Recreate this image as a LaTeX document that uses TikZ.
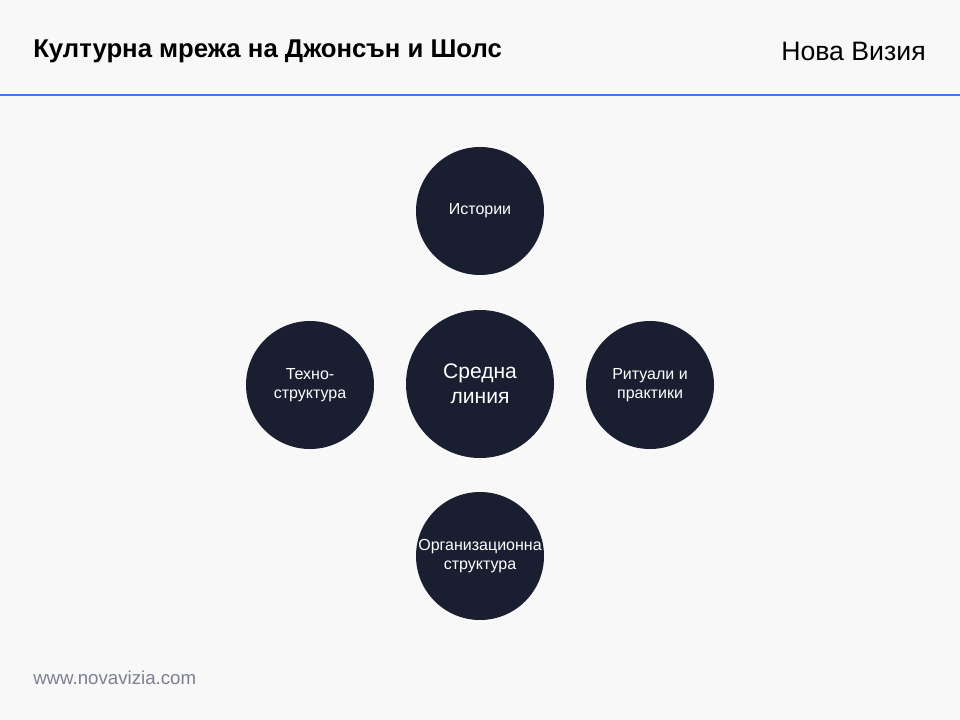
\documentclass[tikz,border=0pt]{standalone}
\usepackage{fontspec}
\setmainfont{Liberation Sans}
\usetikzlibrary{positioning}
\definecolor{pagebg}{HTML}{F8F8F8}
\definecolor{navy}{HTML}{1A1E31}
\definecolor{rulebl}{HTML}{2F7FEF}
\definecolor{footgr}{HTML}{7C8091}
\tikzset{
  bubble/.style={circle,fill=navy,text=white,minimum size=96pt,inner sep=0pt,align=center,font=\fontsize{12}{14.5}\selectfont},
  bigbubble/.style={bubble,minimum size=111pt,font=\fontsize{15.8}{19}\selectfont}
}

\begin{document}
\begin{tikzpicture}[x=0.75pt,y=-0.75pt]
\draw[fill=pagebg,draw=none] (0,0) rectangle (960,720);
\useasboundingbox (0,0) rectangle (960,720);
% header
\node[anchor=west,inner sep=0pt,font=\fontsize{19.3}{23}\selectfont\bfseries] (title) at (33,51) {Културна мрежа на Джонсън и Шолс};
\node[anchor=east,inner sep=0pt,font=\fontsize{20}{24}\selectfont] (brand) at (926,51) {Нова Визия};
\draw[rulebl,line width=1.5pt] (0,95) -- (960,95);

% circles
\node[bigbubble] (mid) at (480,384) {Средна\\линия};
\node[bubble] (stories) at (480,211) {Истории};
\node[bubble] (techno) at (310,385) {Техно-\\структура};
\node[bubble] (rituals) at (650,385) {Ритуали и\\практики};
\node[bubble] (org) at (480,556) {Организационна\\структура};

% footer
\node[anchor=west,inner sep=0pt,text=footgr,font=\fontsize{14}{16}\selectfont] (site) at (33,678) {www.novavizia.com};
\end{tikzpicture}
\end{document}
